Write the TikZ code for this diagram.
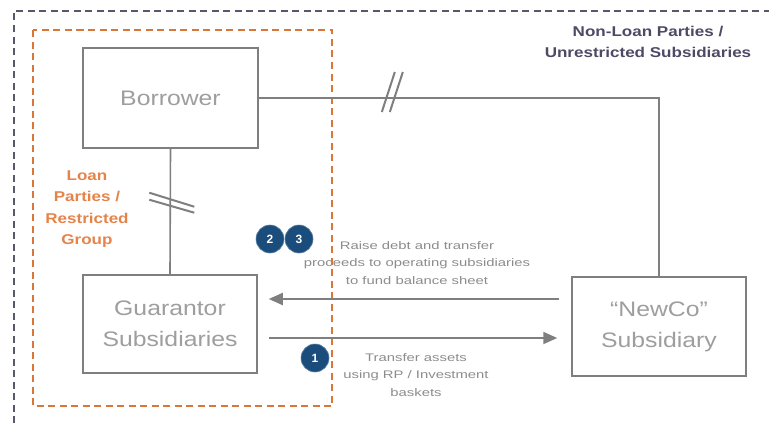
\documentclass[tikz,border=0pt]{standalone}
\usepackage{fontspec}
\setmainfont{Liberation Sans}
\newfontfamily\boxfont{Liberation Sans}[FakeStretch=1.18]
\newfontfamily\smallfont{Liberation Sans}[FakeStretch=1.35]
\newfontfamily\labfont{Liberation Sans}[FakeStretch=1.2]
\usetikzlibrary{arrows.meta}
\definecolor{boxline}{HTML}{7F7F7F}
\definecolor{boxtext}{HTML}{9E9E9E}
\definecolor{smalltext}{HTML}{8C8C8C}
\definecolor{orangeline}{HTML}{D9773A}
\definecolor{orangetext}{HTML}{E5844A}
\definecolor{navytext}{HTML}{4D4A66}
\definecolor{outerline}{HTML}{55596A}
\definecolor{circfill}{HTML}{1B4D7C}
\tikzset{
  entity/.style={draw=boxline, line width=1.5pt, fill=white, inner sep=0pt,
    text=boxtext, align=center, font=\boxfont\fontsize{21}{31}\selectfont},
  conn/.style={draw=boxline, line width=1.6pt},
  flow/.style={draw=boxline, line width=2pt, -{Triangle[length=14pt,width=12pt]}},
  slashmark/.style={draw=boxline, line width=2pt},
  note/.style={text=smalltext, align=center, inner sep=0pt,
    font=\smallfont\fontsize{11}{17.7}\selectfont},
  badge/.style={circle, fill=circfill, draw=circfill!70!white, line width=0.6pt,
    minimum size=28pt, inner sep=0pt, text=white,
    font=\bfseries\fontsize{12}{12}\selectfont},
  grouplabel/.style={align=center, inner sep=0pt,
    font=\labfont\bfseries\fontsize{14.2}{21.5}\selectfont},
  outerframe/.style={draw=outerline, line width=2pt, dash pattern=on 7pt off 4.5pt},
  innerframe/.style={draw=orangeline, line width=1.4pt, dash pattern=on 7pt off 4.5pt}
}
\begin{document}
\begin{tikzpicture}[x=1pt,y=-1pt]
\useasboundingbox (0,0) rectangle (769,423);
% frames
\draw[outerframe] (14,423) -- (14,11) -- (769,11);
\draw[innerframe] (33,30) rectangle (332,406);
% entities
\node[entity, minimum width=175pt, minimum height=100pt] (bor) at (170.5,98) {Borrower};
\node[entity, minimum width=174pt, minimum height=98pt] (gua) at (170,324) {Guarantor\\Subsidiaries};
\node[entity, minimum width=174pt, minimum height=99pt] (newco) at (659,326.5) {“NewCo”\\Subsidiary};
% connectors
\draw[conn] (bor.south) -- (gua.north) coordinate[pos=0.43] (s1);
\draw[conn] (bor.east) -- (bor.east -| newco.north) coordinate[pos=0.33] (h1) -- (newco.north);
\draw[slashmark] ([shift={(-21,-10)}]s1) -- ([shift={(24,4)}]s1);
\draw[slashmark] ([shift={(-21,-3)}]s1) -- ([shift={(24,10)}]s1);
\draw[slashmark] ([shift={(4,-26)}]h1) -- ([shift={(-9,14)}]h1);
\draw[slashmark] ([shift={(12,-26)}]h1) -- ([shift={(-1,14)}]h1);
% flows
\draw[flow] ([xshift=-12pt]newco.west |- 0,299) -- ([xshift=11pt]gua.east |- 0,299);
\draw[flow] ([xshift=11pt]gua.east |- 0,338) -- ([xshift=-14pt]newco.west |- 0,338);
% badges
\node[badge] (b2) at (270,239) {2};
\node[badge] (b3) at (299,239) {3};
\node[badge] (b1) at (315,358) {1};
% notes
\node[note] (n1) at (417,263) {Raise debt and transfer\\proceeds to operating subsidiaries\\to fund balance sheet};
\node[note] (n2) at (416,375) {Transfer assets\\using RP / Investment\\baskets};
% group labels
\node[grouplabel, text=navytext] (nl) at (648,42) {Non-Loan Parties /\\Unrestricted Subsidiaries};
\node[grouplabel, text=orangetext] (lp) at (87,209) {Loan\\Parties /\\Restricted\\Group};
\end{tikzpicture}
\end{document}
